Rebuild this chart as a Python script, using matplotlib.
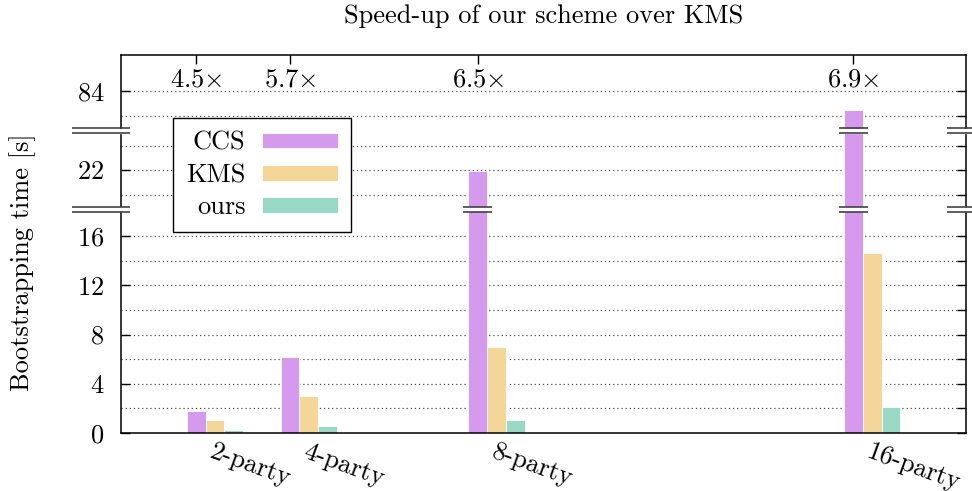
import numpy as np
import matplotlib
matplotlib.use('Agg')
import matplotlib.pyplot as plt
from matplotlib.lines import Line2D
from matplotlib.ticker import FixedLocator
from matplotlib.transforms import blended_transform_factory

# data
parties = [2, 4, 8, 16]
party_labels = ['2-party', '4-party', '8-party', '16-party']
ccs = [1.82, 6.2, 21.9, 82.5]
kms = [1.08, 3.03, 7.0, 14.6]
ours = [0.24, 0.53, 1.08, 2.12]
speedups = ['4.5', '5.7', '6.5', '6.9']

col_ccs = '#d59aed'
col_kms = '#f4d698'
col_ours = '#9ad8c6'

plt.rcParams['font.family'] = 'cmr10'
plt.rcParams['mathtext.fontset'] = 'cm'
plt.rcParams['axes.unicode_minus'] = False
plt.rcParams['font.size'] = 19
plt.rcParams['axes.formatter.use_mathtext'] = True

W, H = 972, 491
fig = plt.figure(figsize=(W / 100, H / 100), dpi=100)


def fx(px):
    return px / W


def fy(py):
    return 1 - py / H


left, right = 121, 966
top, bottom = 55, 433
brk_hi, brk_lo = 130.8, 209.3

# (top px, bottom px, ylim, labelled ticks, unlabelled ticks)
segments = [
    (brk_lo, bottom, (0, 18.17), [0, 4, 8, 12, 16], [2, 6, 10, 14]),
    (brk_hi, brk_lo, (18.81, 25.2), [22], [20, 24]),
    (top, brk_hi, (80.77, 86.93), [84], [82]),
]

x = np.array(parties, dtype=float)
bw = 0.4
axes = []
for ptop, pbot, ylim, major, minor in segments:
    ax = fig.add_axes([fx(left), fy(pbot), fx(right) - fx(left), (pbot - ptop) / H])
    b1 = ax.bar(x - bw, ccs, bw, color=col_ccs, edgecolor='white', linewidth=0.6, zorder=2)
    b2 = ax.bar(x, kms, bw, color=col_kms, edgecolor='white', linewidth=0.6, zorder=2)
    b3 = ax.bar(x + bw, ours, bw, color=col_ours, edgecolor='white', linewidth=0.6, zorder=2)
    ax.set_xlim(0, 18)
    ax.set_ylim(*ylim)
    ax.yaxis.set_major_locator(FixedLocator(major))
    ax.yaxis.set_minor_locator(FixedLocator(minor))
    ax.grid(axis='y', which='both', linestyle=(0, (1, 2.5)), color='0.25', linewidth=0.85, zorder=1)
    ax.set_axisbelow(True)
    ax.tick_params(axis='y', which='major', direction='in', left=True, right=True,
                   length=6.5, width=1, pad=12)
    ax.tick_params(axis='y', which='minor', direction='in', left=False, right=True,
                   length=6.5, width=1)
    ax.tick_params(axis='x', bottom=False, top=False, labelbottom=False, labeltop=False)
    for s in ax.spines.values():
        s.set_linewidth(1.1)
    axes.append((ax, (b1, b2, b3)))

ax_low, bars_low = axes[0]
ax_mid = axes[1][0]
ax_top = axes[2][0]

ax_low.spines['top'].set_visible(False)
ax_mid.spines['top'].set_visible(False)
ax_mid.spines['bottom'].set_visible(False)
ax_top.spines['bottom'].set_visible(False)

# x labels on the bottom
ax_low.set_xticks(x)
ax_low.set_xticklabels(party_labels, rotation=-20, ha='left', va='top', rotation_mode='anchor')
ax_low.tick_params(axis='x', bottom=True, labelbottom=True, length=0, pad=5)

# speed-up ticks and labels on top
ax_top.set_xticks(x - bw)
ax_top.tick_params(axis='x', top=True, direction='in', length=6.5, width=1, labeltop=False)
trans_top = blended_transform_factory(ax_top.transData, ax_top.transAxes)
for xi, s in zip(x - bw, speedups):
    ax_top.text(xi, 0.585, s + r'$\times$', transform=trans_top, ha='center', va='baseline')

fig.text(fx(543.5), fy(23), 'Speed-up of our scheme over KMS', ha='center', va='baseline')
fig.text(fx(23), fy(262), 'Bootstrapping time [s]', rotation=90, ha='center', va='center')


# break marks
def break_mark(x0, x1, ypx, transform):
    d = 2.5 / H
    y = fy(ypx)
    fig.add_artist(Line2D([x0, x1], [y, y], color='white', linewidth=3.8,
                          transform=transform, zorder=10, solid_capstyle='butt'))
    for dy in (-d, d):
        fig.add_artist(Line2D([x0, x1], [y + dy, y + dy], color='0.2', linewidth=1.1,
                              transform=transform, zorder=11, solid_capstyle='butt'))


for ypx in (brk_hi, brk_lo):
    break_mark(fx(72), fx(130), ypx, fig.transFigure)
    break_mark(fx(947), fx(985), ypx, fig.transFigure)

trans_bar = blended_transform_factory(ax_low.transData, fig.transFigure)
# bars that cross a break
ymaxs = [s[2][1] for s in segments]
for xi, v in zip(x - bw, ccs):
    if v > ymaxs[0]:
        break_mark(xi - 0.31, xi + 0.31, brk_lo, trans_bar)
    if v > ymaxs[1]:
        break_mark(xi - 0.31, xi + 0.31, brk_hi, trans_bar)

leg = fig.legend(bars_low, ['CCS', 'KMS', 'ours'], loc='upper left',
                 bbox_to_anchor=(fx(173), fy(118)), borderaxespad=0, markerfirst=False,
                 fancybox=False, edgecolor='black', framealpha=1, handlelength=2.85,
                 handleheight=0.53, handletextpad=0.64, labelspacing=0.32, borderpad=0.5)
leg.get_frame().set_linewidth(1.0)
leg.set_zorder(12)

fig.savefig('out.png', dpi=100)
